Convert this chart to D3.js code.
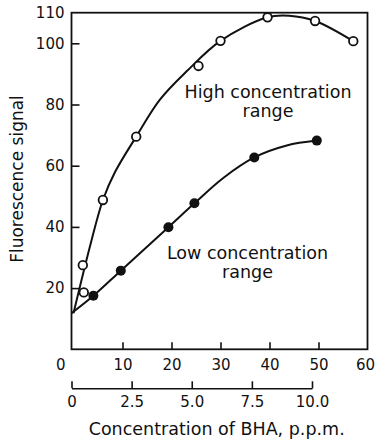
<!DOCTYPE html>
<html>
<head>
<meta charset="utf-8">
<script src="https://cdn.jsdelivr.net/npm/d3@7"></script>
<style>
  body { margin: 0; background: #fff; }
  svg { display: block; }
  text { font-family: "DejaVu Sans", sans-serif; fill: #111; }
</style>
</head>
<body>
<div id="chart"></div>
<script>
// high concentration range (open circles), top x scale 0-60
var highX = [1.9, 2.1, 6.0, 12.8, 25.5, 30.0, 39.6, 49.3, 57.1];
var highY = [27.5, 18.6, 48.8, 69.5, 92.6, 100.8, 108.5, 107.3, 100.7];
// low concentration range (filled circles), lower x scale 0-10 p.p.m.
var lowX = [0.91, 2.05, 4.03, 5.11, 7.6, 10.2];
var lowY = [17.5, 25.7, 39.9, 47.7, 62.7, 68.2];
// hand-drawn fitted curves, knots
var highCurveX = [0, 3.5, 6.0, 8.5, 12.8, 17.6, 23.2, 30.0, 39.6, 44.0, 49.3, 57.1];
var highCurveY = [11.8, 34.5, 48.8, 58, 69.5, 81.5, 91, 100.8, 108.5, 109, 107.3, 100.7];
var lowCurveX = [0, 0.91, 2.05, 4.03, 5.11, 6.31, 7.6, 8.95, 10.2];
var lowCurveY = [11.8, 17.5, 25.7, 39.9, 47.7, 56.0, 62.7, 66.6, 68.2];

var yTicks = [20, 40, 60, 80, 100, 110];
var xTicksHigh = [0, 10, 20, 30, 40, 50, 60];
var xTicksLow = [0, 2.5, 5.0, 7.5, 10.0];

var width = 376, height = 441;
var ink = "#111";

var svg = d3.select("#chart").append("svg")
  .attr("width", width)
  .attr("height", height);

var x1 = d3.scaleLinear().domain([0, 60]).range([73.5, 367.5]);
var x2 = d3.scaleLinear().domain([0, 10]).range([71.5, 312]);
var y = d3.scaleLinear().domain([0, 110]).range([349.3, 12.7]);

// frame
svg.append("rect")
  .attr("x", x2(0))
  .attr("y", y(110))
  .attr("width", x1(60) - x2(0))
  .attr("height", y(0) - y(110))
  .attr("fill", "none")
  .attr("stroke", ink)
  .attr("stroke-width", 1.8);

function styleAxis(g) {
  g.attr("font-family", "DejaVu Sans, sans-serif").attr("font-size", 15);
  g.selectAll("line").attr("stroke", ink).attr("stroke-width", 1.6);
  g.selectAll("text").attr("fill", ink);
}

// y axis
var gy = svg.append("g")
  .attr("transform", "translate(" + x2(0) + ",0)")
  .call(d3.axisLeft(y).tickValues(yTicks).tickSizeInner(-8).tickSizeOuter(0).tickPadding(7))
  .call(styleAxis);
gy.select(".domain").remove();
gy.selectAll(".tick").filter(function(d) { return d === 110; }).select("line").remove();

// upper x axis (0-60)
var gx = svg.append("g")
  .attr("transform", "translate(0," + y(0) + ")")
  .call(d3.axisBottom(x1).tickValues(xTicksHigh).tickSizeInner(-7).tickSizeOuter(0).tickPadding(10))
  .call(styleAxis);
gx.select(".domain").remove();
gx.selectAll(".tick").filter(function(d) { return d === 0 || d === 60; }).select("line").remove();
gx.selectAll(".tick").filter(function(d) { return d === 0; }).select("text")
  .attr("x", -8.5).attr("text-anchor", "end");
gx.selectAll(".tick").filter(function(d) { return d === 60; }).select("text")
  .attr("x", -2.5);

// lower x axis (0-10 p.p.m.)
var gx2 = svg.append("g")
  .attr("transform", "translate(0,388.3)")
  .call(d3.axisBottom(x2).tickValues(xTicksLow).tickSizeInner(-7).tickSizeOuter(0).tickPadding(8)
    .tickFormat(function(d) { return d === 0 ? "0" : d.toFixed(1); }))
  .call(styleAxis);
gx2.select(".domain").attr("stroke", ink).attr("stroke-width", 1.6);

// curves
var highLine = d3.line()
  .x(function(d) { return x1(d[0]); })
  .y(function(d) { return y(d[1]); })
  .curve(d3.curveCatmullRom.alpha(0.5));
var lowLine = d3.line()
  .x(function(d) { return x2(d[0]); })
  .y(function(d) { return y(d[1]); })
  .curve(d3.curveCatmullRom.alpha(0.5));

svg.append("path")
  .datum(d3.zip(highCurveX, highCurveY))
  .attr("d", highLine)
  .attr("fill", "none")
  .attr("stroke", ink)
  .attr("stroke-width", 2);

svg.append("path")
  .datum(d3.zip(lowCurveX, lowCurveY))
  .attr("d", lowLine)
  .attr("fill", "none")
  .attr("stroke", ink)
  .attr("stroke-width", 2);

// points
svg.selectAll(".high")
  .data(d3.zip(highX, highY))
  .enter().append("circle")
  .attr("class", "high")
  .attr("cx", function(d) { return x1(d[0]); })
  .attr("cy", function(d) { return y(d[1]); })
  .attr("r", 4.3)
  .attr("fill", "#fff")
  .attr("stroke", ink)
  .attr("stroke-width", 1.8);

svg.selectAll(".low")
  .data(d3.zip(lowX, lowY))
  .enter().append("circle")
  .attr("class", "low")
  .attr("cx", function(d) { return x2(d[0]); })
  .attr("cy", function(d) { return y(d[1]); })
  .attr("r", 5)
  .attr("fill", ink);

// annotations
function label(lines, cx, y0, dy) {
  lines.forEach(function(t, i) {
    svg.append("text")
      .attr("x", cx)
      .attr("y", y0 + i * dy)
      .attr("text-anchor", "middle")
      .attr("font-size", 17.5)
      .text(t);
  });
}
label(["High concentration", "range"], 268, 97.5, 19.5);
label(["Low concentration", "range"], 247.5, 259, 19);

// axis titles
svg.append("text")
  .attr("transform", "translate(22.7,179) rotate(-90)")
  .attr("text-anchor", "middle")
  .attr("font-size", 17)
  .text("Fluorescence signal");

svg.append("text")
  .attr("x", 216.7)
  .attr("y", 435)
  .attr("text-anchor", "middle")
  .attr("font-size", 17.5)
  .text("Concentration of BHA, p.p.m.");
</script>
</body>
</html>
